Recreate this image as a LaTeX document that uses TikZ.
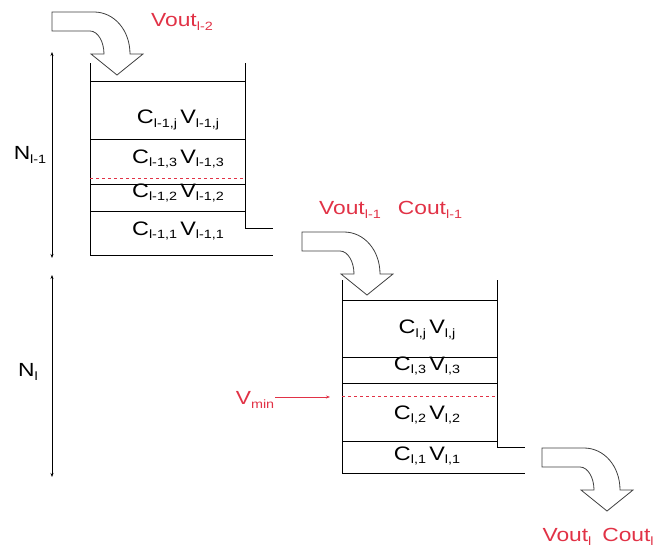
\documentclass[tikz,border=0pt]{standalone}
\usepackage{fontspec}
\setmainfont{Liberation Sans}[FakeStretch=1.2]
\usetikzlibrary{arrows.meta,positioning}
\definecolor{outred}{RGB}{225,50,70}
\newcommand\sub[1]{\raisebox{-3.5pt}{\fontsize{12}{13}\selectfont #1}}
\newcommand\bendarrow[1]{%
  \draw[bendflow, shift={#1}] (0,0) -- (42,0)
    .. controls (62,0) and (78,18) .. (78,42) -- (91,42) -- (65,63)
    -- (39,42) -- (52,42) .. controls (52,30) and (46,19) .. (38,19)
    -- (0,19) -- cycle;}
\tikzset{
  wall/.style={line width=0.8pt},
  level/.style={dashed, draw=outred, line width=0.7pt},
  cell/.style={font=\fontsize{19.5}{22}\selectfont, inner sep=0pt},
  redlabel/.style={text=outred, font=\fontsize{19}{22}\selectfont, inner sep=1pt},
  sizelabel/.style={font=\fontsize{19}{22}\selectfont, inner sep=1pt},
  bendflow/.style={draw=black!75, fill=white, line width=0.8pt},
  span/.style={{Stealth[length=4pt,width=3pt]}-{Stealth[length=4pt,width=3pt]}, line width=0.8pt},
  vminarrow/.style={-{Stealth[length=4pt,width=3pt]}, draw=outred, line width=0.6pt}
}
\begin{document}
\begin{tikzpicture}[x=1pt, y=-1pt]
  \useasboundingbox (0,0) rectangle (655,551);

  % upper stack, level l-1
  \draw[wall] (90,63) -- (90,255) -- (273,255);
  \draw[wall] (245,63) -- (245,228) -- (273,228);
  \draw[wall] (90,81) -- (245,81);
  \draw[wall] (90,139) -- (245,139);
  \draw[wall] (90,184) -- (245,184);
  \draw[wall] (90,211) -- (245,211);
  \draw[level] (90,178) -- (245,178);
  \node[cell] (cupj) at (178,120) {C\sub{l-1,j}\,V\sub{l-1,j}};
  \node[cell] (cup3) at (178,159) {C\sub{l-1,3}\,V\sub{l-1,3}};
  \node[cell] (cup2) at (178,193) {C\sub{l-1,2}\,V\sub{l-1,2}};
  \node[cell] (cup1) at (178,231) {C\sub{l-1,1}\,V\sub{l-1,1}};

  % lower stack, level l
  \draw[wall] (342,280) -- (342,473) -- (525,473);
  \draw[wall] (497,280) -- (497,447) -- (525,447);
  \draw[wall] (342,300) -- (497,300);
  \draw[wall] (342,357) -- (497,357);
  \draw[wall] (342,383) -- (497,383);
  \draw[wall] (342,441) -- (497,441);
  \draw[level] (342,396) -- (497,396);
  \node[cell] (clowj) at (427,330) {C\sub{l,j}\,V\sub{l,j}};
  \node[cell] (clow3) at (427,366) {C\sub{l,3}\,V\sub{l,3}};
  \node[cell] (clow2) at (427,415) {C\sub{l,2}\,V\sub{l,2}};
  \node[cell] (clow1) at (427,456) {C\sub{l,1}\,V\sub{l,1}};

  % flows
  \bendarrow{(52,12)}
  \bendarrow{(302,232)}
  \bendarrow{(542,448)}
  \node[redlabel] (vouta) at (182,22) {Vout\sub{l-2}};
  \node[redlabel] (voutb) at (350,210) {Vout\sub{l-1}};
  \node[redlabel] (coutb) at (430,210) {Cout\sub{l-1}};
  \node[redlabel] (voutc) at (567,537) {Vout\sub{l}};
  \node[redlabel] (coutc) at (628,537) {Cout\sub{l}};

  % sizes
  \coordinate (upt) at (52,52);
  \coordinate (upb) at (52,258);
  \coordinate (lowt) at (52,275);
  \coordinate (lowb) at (52,477);
  \draw[span] (upt) -- (upb);
  \draw[span] (lowt) -- (lowb);
  \node[sizelabel] (nup) at (30,155) {N\sub{l-1}};
  \node[sizelabel] (nlow) at (28,372) {N\sub{l}};

  % threshold
  \node[redlabel] (vmin) at (255,400) {V\sub{min}};
  \coordinate (vminhit) at (330,397);
  \draw[vminarrow] (vmin.east |- vminhit) -- (vminhit);
\end{tikzpicture}
\end{document}
